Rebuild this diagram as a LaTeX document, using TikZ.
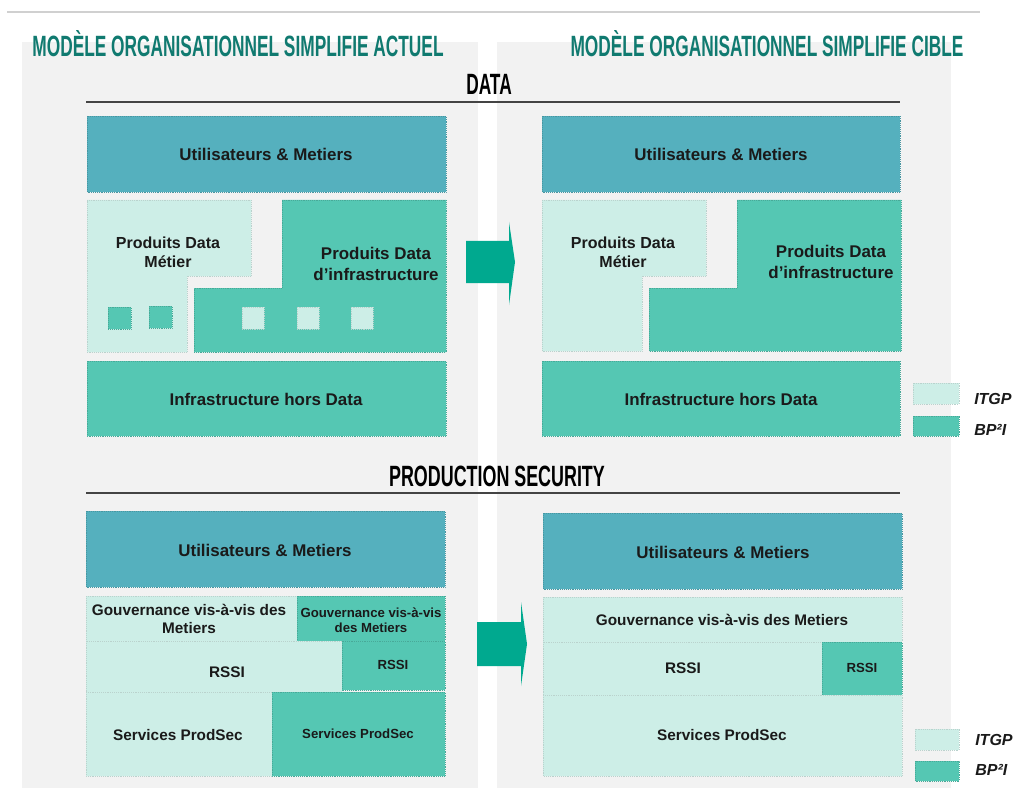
\documentclass[tikz,border=0pt]{standalone}
\usepackage{fontspec}
\usepackage{graphicx}
\setmainfont{Liberation Sans}
\definecolor{panelgray}{RGB}{242,242,242}
\definecolor{usercol}{RGB}{85,176,190}
\definecolor{darkcol}{RGB}{85,199,179}
\definecolor{lightcol}{RGB}{205,238,231}
\definecolor{arrowcol}{RGB}{0,169,143}
\definecolor{titlecol}{RGB}{16,122,112}
\definecolor{textcol}{RGB}{26,26,26}
\newcommand{\condensed}[1]{\scalebox{0.59}[1]{#1}}
\tikzset{
  userbox/.style={fill=usercol, draw=usercol!85!black, densely dotted, line width=0.4pt},
  darkbox/.style={fill=darkcol, draw=darkcol!85!black, densely dotted, line width=0.4pt},
  lightbox/.style={fill=lightcol, draw=lightcol!75!gray, densely dotted, line width=0.4pt},
  bigtxt/.style={font=\bfseries\fontsize{12.7}{16}\selectfont, text=textcol, align=center, inner sep=0pt},
  midtxt/.style={font=\bfseries\fontsize{11.5}{13.5}\selectfont, text=textcol, align=center, inner sep=0pt},
  smalltxt/.style={font=\bfseries\fontsize{9.9}{11.5}\selectfont, text=textcol, align=center, inner sep=0pt},
  legtxt/.style={font=\bfseries\itshape\fontsize{12}{14}\selectfont, text=textcol, anchor=west, inner sep=0pt},
  headtxt/.style={font=\bfseries\fontsize{22}{26}\selectfont, inner sep=0pt},
  flowarrow/.style={fill=arrowcol}
}
\begin{document}
\begin{tikzpicture}[x=0.75pt,y=0.75pt,yscale=-1,xscale=1]
\useasboundingbox (0,0) rectangle (1018,788);

%Shape: Panels
\fill [panelgray] (22,42) rectangle (478,788) ;
\fill [panelgray] (497,42) rectangle (951,788) ;
%Straight Lines top
\draw [color={rgb, 255:red, 208; green, 208; blue, 208 }, line width=1.5] (7,12) -- (980,12) ;

% Text Node titles
\draw (238,44) node [headtxt, text=titlecol] (titleL) {\condensed{MODÈLE ORGANISATIONNEL SIMPLIFIE ACTUEL}};
\draw (767,44) node [headtxt, text=titlecol] (titleR) {\condensed{MODÈLE ORGANISATIONNEL SIMPLIFIE CIBLE}};

%%%%%%%%%%%%%%%%%%%% DATA
\draw (489,84) node [headtxt, text=black] (headData) {\condensed{DATA}};
\draw [color={rgb, 255:red, 68; green, 68; blue, 68 }, line width=1.5] (86,102) -- (900,102) ;

%Shape: Rectangle [actuel]
\draw [userbox] (87,116) rectangle (446,192) ;
\draw [lightbox] (87,200) -- (251,200) -- (251,276) -- (187,276) -- (187,352) -- (87,352) -- cycle ;
\draw [darkbox] (282,200) -- (446,200) -- (446,352) -- (194,352) -- (194,288) -- (282,288) -- cycle ;
\draw [darkbox] (87,361) rectangle (446,436) ;
%Shape: Square small
\draw [darkbox] (108,307) rectangle (131,329) ;
\draw [darkbox] (149,306) rectangle (172,328) ;
\draw [lightbox] (242,307) rectangle (264,329) ;
\draw [lightbox] (297,307) rectangle (319,329) ;
\draw [lightbox] (351,307) rectangle (373,329) ;

% Text Node
\draw (266,154) node [bigtxt] (userDL) {Utilisateurs \& Metiers};
\draw (168,252) node [midtxt, font=\bfseries\fontsize{12}{14.5}\selectfont] (metierDL) {Produits Data\\Métier};
\draw (376,264) node [bigtxt] (infraDL) {Produits Data\\d’infrastructure};
\draw (266,399) node [bigtxt] (horsDL) {Infrastructure hors Data};

%Shape: Arrow
\draw [flowarrow, draw=none] (466,241) -- (509,241) -- (509,222) -- (515,262) -- (509,305) -- (509,283) -- (466,283) -- cycle ;

%Shape: Rectangle [cible]
\draw [userbox] (542,116) rectangle (900,192) ;
\draw [lightbox] (542,200) -- (706,200) -- (706,276) -- (642,276) -- (642,351) -- (542,351) -- cycle ;
\draw [darkbox] (737,200) -- (901,200) -- (901,351) -- (649,351) -- (649,288) -- (737,288) -- cycle ;
\draw [darkbox] (542,361) rectangle (900,436) ;

% Text Node
\draw (721,154) node [bigtxt] (userDR) {Utilisateurs \& Metiers};
\draw (623,252) node [midtxt, font=\bfseries\fontsize{12}{14.5}\selectfont] (metierDR) {Produits Data\\Métier};
\draw (831,262) node [bigtxt] (infraDR) {Produits Data\\d’infrastructure};
\draw (721,399) node [bigtxt] (horsDR) {Infrastructure hors Data};

%Shape: Legend
\draw [lightbox] (913,383) rectangle (959,404) ;
\draw [darkbox] (913,416) rectangle (959,436) ;
\draw (974,399) node [legtxt] (itgpA) {ITGP};
\draw (974,430) node [legtxt] (bpiA) {BP²I};

%%%%%%%%%%%%%%%%%%%% PRODUCTION SECURITY
\draw (497,476) node [headtxt, text=black] (headSec) {\scalebox{0.61}[1]{PRODUCTION SECURITY}};
\draw [color={rgb, 255:red, 68; green, 68; blue, 68 }, line width=1.5] (86,493) -- (900,493) ;

%Shape: Rectangle [actuel]
\draw [userbox] (86,511) rectangle (445,587) ;
\draw [lightbox] (86,596) rectangle (297,641) ;
\draw [darkbox] (297,596) rectangle (445,641) ;
\draw [lightbox] (86,641) rectangle (342,692) ;
\draw [darkbox] (342,641) rectangle (445,690) ;
\draw [lightbox] (86,692) rectangle (272,776) ;
\draw [darkbox] (272,692) rectangle (445,776) ;

% Text Node
\draw (265,550) node [bigtxt] (userSL) {Utilisateurs \& Metiers};
\draw (189,619) node [midtxt] (gouvSL) {Gouvernance vis-à-vis des\\Metiers};
\draw (371,620) node [smalltxt] (gouvSLb) {Gouvernance vis-à-vis\\des Metiers};
\draw (227,672) node [midtxt] (rssiSL) {RSSI};
\draw (393,665) node [smalltxt] (rssiSLb) {RSSI};
\draw (178,735) node [midtxt] (servSL) {Services ProdSec};
\draw (358,734) node [smalltxt] (servSLb) {Services ProdSec};

%Shape: Arrow
\draw [flowarrow, draw=none] (477,622) -- (521,622) -- (521,602) -- (527,644) -- (521,686) -- (521,666) -- (477,666) -- cycle ;

%Shape: Rectangle [cible]
\draw [userbox] (543,513) rectangle (902,589) ;
\draw [lightbox] (543,597) rectangle (902,642) ;
\draw [lightbox] (543,642) rectangle (822,695) ;
\draw [darkbox] (822,642) rectangle (902,695) ;
\draw [lightbox] (543,695) rectangle (902,776) ;

% Text Node
\draw (723,552) node [bigtxt] (userSR) {Utilisateurs \& Metiers};
\draw (722,620) node [midtxt] (gouvSR) {Gouvernance vis-à-vis des Metiers};
\draw (683,668) node [midtxt] (rssiSR) {RSSI};
\draw (862,668) node [smalltxt] (rssiSRb) {RSSI};
\draw (722,735) node [midtxt] (servSR) {Services ProdSec};

%Shape: Legend
\draw [lightbox] (915,729) rectangle (959,750) ;
\draw [darkbox] (915,761) rectangle (959,781) ;
\draw (975,740) node [legtxt] (itgpB) {ITGP};
\draw (975,770) node [legtxt] (bpiB) {BP²I};

\end{tikzpicture}
\end{document}
